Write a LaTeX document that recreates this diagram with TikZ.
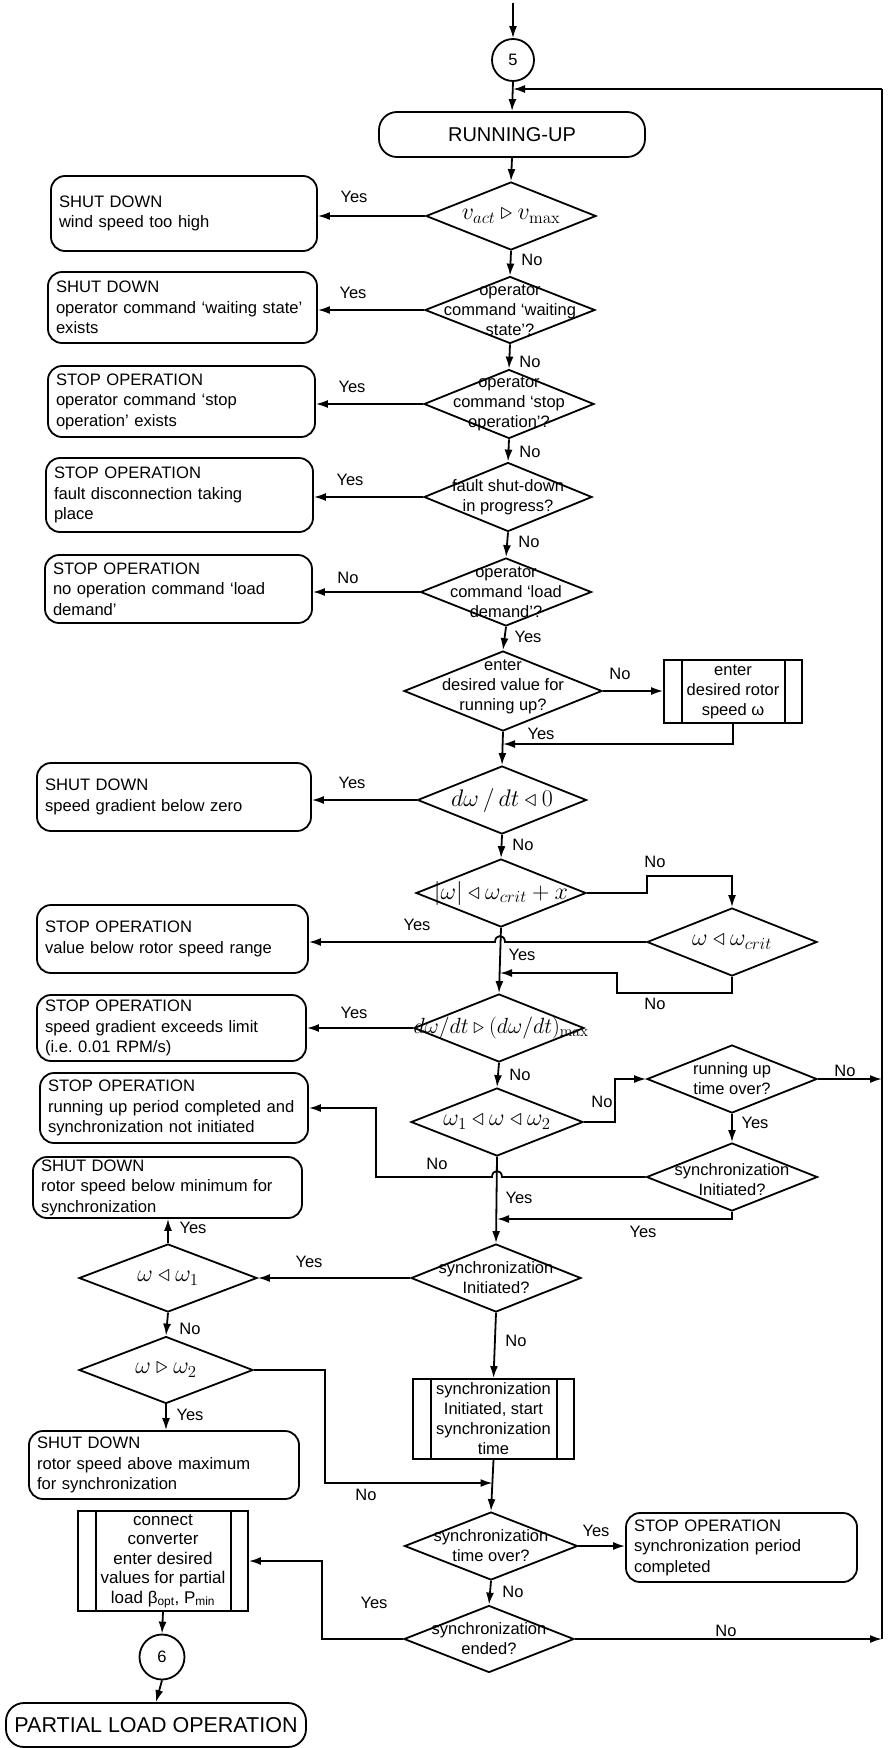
\documentclass[tikz,border=0pt]{standalone}
\usepackage{fix-cm}
\usepackage[no-math]{fontspec}
\setmainfont{Liberation Sans}
\usetikzlibrary{shapes.geometric,arrows.meta}
\frenchspacing

\begin{document}
\begin{tikzpicture}[x=1pt,y=-1pt,line width=1.8pt,
  >={Latex[length=12pt,width=8pt]},
  dia/.style 2 args={draw,diamond,inner sep=0pt,minimum width=#1pt,minimum height=#2pt},
  dtxt/.style={align=center,inner sep=0pt,font=\fontsize{16.5}{20}\selectfont},
  mtxt/.style={inner sep=0pt,font=\fontsize{24}{28}\selectfont},
  term/.style 2 args={draw,rounded corners=14pt,align=left,inner xsep=8pt,inner ysep=0pt,
    text width=#1pt,minimum height=#2pt,font=\fontsize{16.6}{20.5}\selectfont},
  proc/.style 2 args={draw,align=center,inner sep=0pt,minimum width=#1pt,minimum height=#2pt,
    font=\fontsize{16.5}{20}\selectfont},
  conn/.style={draw,circle,inner sep=0pt,minimum size=#1pt,font=\fontsize{16.5}{20}\selectfont},
  lab/.style={inner sep=0pt,font=\fontsize{16.5}{20}\selectfont},
  big/.style n args={3}{draw,rounded corners=18pt,inner sep=0pt,minimum width=#1pt,
    minimum height=#2pt,font=\fontsize{#3}{#3}\selectfont}
]
\useasboundingbox (0,0) rectangle (889,1748);

% ---------- main column ----------
\node[conn=42] (c5) at (513,60) {5};
\node[big={266}{45}{20}] (ru) at (512,134.5) {RUNNING-UP};

\node[dia={170}{68}] (d1) at (511,216) {};
\node[mtxt] (d1t) at (d1) {$v_{act}\triangleright v_{\max}$};
\node[dia={170}{67}] (d2) at (510,310) {};
\node[dtxt] (d2t) at (d2) {operator\\command ‘waiting\\state’?};
\node[dia={170}{69}] (d3) at (509,404) {};
\node[dtxt] (d3t) at (d3) {operator\\command ‘stop\\operation’?};
\node[dia={168}{69}] (d4) at (508,497) {};
\node[dtxt] (d4t) at (d4) {fault shut-down\\in progress?};
\node[dia={171}{68}] (d5) at (506,592) {};
\node[dtxt] (d5t) at (d5) {operator\\command ‘load\\demand’?};
\node[dia={198}{80}] (d6) at (503,691) {};
\node[dtxt] (d6t) at (503,687) {enter\\desired value for\\running up?};
\node[dia={169}{68}] (d7) at (502,800) {};
\node[mtxt] (d7t) at (d7) {$d\omega\,/\,dt\triangleleft 0$};
\node[dia={170}{68}] (d8) at (501,893) {};
\node[mtxt] (d8t) at (d8) {$|\omega|\triangleleft\omega_{crit}+x$};
\node[dia={170}{68}] (d10) at (499,1028) {};
\node[mtxt,font=\fontsize{22}{26}\selectfont] (d10t) at (501,1028) {$d\omega/dt\triangleright(d\omega/dt)_{\max}$};
\node[dia={172}{68}] (d11) at (497,1122) {};
\node[mtxt] (d11t) at (d11) {$\omega_1\triangleleft\omega\triangleleft\omega_2$};
\node[dia={170}{68}] (d14) at (496,1278) {};
\node[dtxt] (d14t) at (d14) {synchronization\\Initiated?};
\node[proc={161}{80}] (p13) at (493.5,1419) {synchronization\\Initiated, start\\synchronization\\time};
\node[dia={173}{68}] (d17) at (491,1546) {};
\node[dtxt] (d17t) at (d17) {synchronization\\time over?};
\node[dia={170}{67}] (d18) at (489,1639) {};
\node[dtxt] (d18t) at (d18) {synchronization\\ended?};

% ---------- right column ----------
\node[proc={138}{63}] (p6) at (733,691.5) {enter\\desired rotor\\speed ω};
\node[dia={170}{68}] (d9) at (732,942) {};
\node[mtxt] (d9t) at (d9) {$\omega\triangleleft\omega_{crit}$};
\node[dia={170}{68}] (d12) at (732,1079) {};
\node[dtxt] (d12t) at (d12) {running up\\time over?};
\node[dia={171}{68}] (d13) at (732,1177) {};
\node[dtxt] (d13t) at (732,1180) {synchronization\\Initiated?};
\node[term={215}{69}] (b14) at (741.5,1547.5) {STOP OPERATION\\synchronization period\\completed};

% ---------- left column ----------
\node[term={250}{75}] (b1) at (184,213.5) {SHUT DOWN\\wind speed too high};
\node[term={253}{71}] (b2) at (182.5,307.5) {SHUT DOWN\\operator command ‘waiting state’\\exists};
\node[term={251}{71}] (b3) at (181.5,401.5) {STOP OPERATION\\operator command ‘stop\\operation’ exists};
\node[term={251}{74}] (b4) at (179.5,495) {STOP OPERATION\\fault disconnection taking\\place};
\node[term={251}{68}] (b5) at (178.5,589) {STOP OPERATION\\no operation command ‘load\\demand’};
\node[term={258}{68}] (b7) at (174,797) {SHUT DOWN\\speed gradient below zero};
\node[term={255}{68}] (b8) at (172.5,939) {STOP OPERATION\\value below rotor speed range};
\node[term={253}{66}] (b9) at (171.5,1028) {STOP OPERATION\\speed gradient exceeds limit\\(i.e. 0.01 RPM/s)};
\node[term={252}{70}] (b10) at (174,1108) {STOP OPERATION\\running up period completed and\\synchronization not initiated};
\node[term={253}{61}] (b11) at (167.5,1187.5) {SHUT DOWN\\rotor speed below minimum for\\synchronization};
\node[dia={178}{68}] (d15) at (168,1278) {};
\node[mtxt] (d15t) at (d15) {$\omega\triangleleft\omega_1$};
\node[dia={174}{67}] (d16) at (166,1370) {};
\node[mtxt] (d16t) at (d16) {$\omega\triangleright\omega_2$};
\node[term={254}{68}] (b12) at (164,1465) {SHUT DOWN\\rotor speed above maximum\\for synchronization};
\node[proc={170}{100},font=\fontsize{17}{19.5}\selectfont] (p15) at (163,1561)
  {connect\\converter\\enter desired\\values for partial\\load β\textsubscript{opt}, P\textsubscript{min}};
\node[conn=45] (c6) at (162,1657) {6};
\node[big={300}{44}{21.5}] (pl) at (156,1725) {PARTIAL LOAD OPERATION};

% inner bars of the predefined-process boxes
\foreach \p in {p6,p13,p15}{
  \draw ([xshift=19pt]\p.north west) -- ([xshift=19pt]\p.south west);
  \draw ([xshift=-18pt]\p.north east) -- ([xshift=-18pt]\p.south east);
}

% ---------- junction points ----------
\coordinate (start) at (513,3);
\coordinate (fb) at (513,89);
\coordinate (rt) at (882,89);
\coordinate (rb) at (882,1639);
\coordinate (j1) at (503,744);
\coordinate (j2) at (500,973);
\coordinate (j3) at (497,1219);
\coordinate (j4) at (492.5,1483);

% ---------- connectors ----------
\draw[->] (start) -- (c5);
\draw[->] (c5.south) -- (ru.north);
\draw (rb) -- (rt);
\draw[->] (rt) -- (fb);
\draw[->] (ru.south) -- (d1.north);

\draw[->] (d1.west) -- (d1.west -| b1.east);
\draw[->] (d1.south) -- (d2.north);
\draw[->] (d2.west) -- (d2.west -| b2.east);
\draw[->] (d2.south) -- (d3.north);
\draw[->] (d3.west) -- (d3.west -| b3.east);
\draw[->] (d3.south) -- (d4.north);
\draw[->] (d4.west) -- (d4.west -| b4.east);
\draw[->] (d4.south) -- (d5.north);
\draw[->] (d5.west) -- (d5.west -| b5.east);
\draw[->] (d5.south) -- (d6.north);
\draw[->] (d6.east) -- (d6.east -| p6.west);
\draw[->] (p6.south) |- (j1);
\draw[->] (d6.south) -- (d7.north);
\draw[->] (d7.west) -- (d7.west -| b7.east);
\draw[->] (d7.south) -- (d8.north);

\draw[->] (d8.east) -- (647,893) -- (647,876) -| (d9.north);
\draw[->] (d9.west) -- (505,942) .. controls (505,934) and (495,934) .. (495,942) -- (b8.east |- d9.west);
\draw[->] (d9.south) -- (732,993) -- (617,993) -- (617,973) -- (j2);
\draw[->] (d8.south) -- (d10.north);
\draw[->] (d10.west) -- (d10.west -| b9.east);
\draw[->] (d10.south) -- (d11.north);

\draw[->] (d11.east) -- (615,1122) |- (d12.west);
\draw[->] (d12.east) -- (d12.east -| rt);
\draw[->] (d12.south) -- (d13.north);
\draw[->] (d13.west) -- (502,1177) .. controls (502,1169) and (492,1169) .. (492,1177) -- (376,1177) |- (b10.east);
\draw[->] (d13.south) |- (j3);
\draw[->] (d11.south) -- (d14.north);

\draw[->] (d14.west) -- (d15.east);
\draw[->] (d15.north) -- (d15.north |- b11.south);
\draw[->] (d15.south) -- (d16.north);
\draw[->] (d16.south) -- (d16.south |- b12.north);
\draw[->] (d16.east) -- (325,1370) |- (j4);
\draw[->] (d14.south) -- (p13.north);
\draw[->] (p13.south) -- (d17.north);
\draw[->] (d17.east) -- (d17.east -| b14.west);
\draw[->] (d17.south) -- (d18.north);
\draw[->] (d18.east) -- (rb);
\draw[->] (d18.west) -- (322,1639) |- (p15.east);
\draw[->] (p15.south) -- (c6.north);
\draw[->] (c6.south) -- (pl.north);

% ---------- branch labels ----------
\node[lab] (l1) at (354,197) {Yes};
\node[lab] (l2) at (532,260) {No};
\node[lab] (l3) at (353,293) {Yes};
\node[lab] (l4) at (530,362) {No};
\node[lab] (l5) at (352,387) {Yes};
\node[lab] (l6) at (530,452) {No};
\node[lab] (l7) at (350,480) {Yes};
\node[lab] (l8) at (529,542) {No};
\node[lab] (l9) at (348,578) {No};
\node[lab] (l10) at (528,637) {Yes};
\node[lab] (l11) at (620,674) {No};
\node[lab] (l12) at (541,734) {Yes};
\node[lab] (l13) at (352,783) {Yes};
\node[lab] (l14) at (523,845) {No};
\node[lab] (l15) at (655,862) {No};
\node[lab] (l16) at (417,925) {Yes};
\node[lab] (l17) at (522,955) {Yes};
\node[lab] (l18) at (655,1004) {No};
\node[lab] (l19) at (354,1013) {Yes};
\node[lab] (l20) at (520,1075) {No};
\node[lab] (l21) at (602,1102) {No};
\node[lab] (l22) at (845,1071) {No};
\node[lab] (l23) at (755,1123) {Yes};
\node[lab] (l24) at (437,1164) {No};
\node[lab] (l25) at (519,1198) {Yes};
\node[lab] (l26) at (643,1232) {Yes};
\node[lab] (l27) at (309,1262) {Yes};
\node[lab] (l28) at (193,1228) {Yes};
\node[lab] (l29) at (190,1329) {No};
\node[lab] (l30) at (190,1415) {Yes};
\node[lab] (l31) at (516,1341) {No};
\node[lab] (l32) at (366,1495) {No};
\node[lab] (l33) at (596,1531) {Yes};
\node[lab] (l34) at (513,1592) {No};
\node[lab] (l35) at (726,1631) {No};
\node[lab] (l36) at (374,1603) {Yes};
\end{tikzpicture}
\end{document}
